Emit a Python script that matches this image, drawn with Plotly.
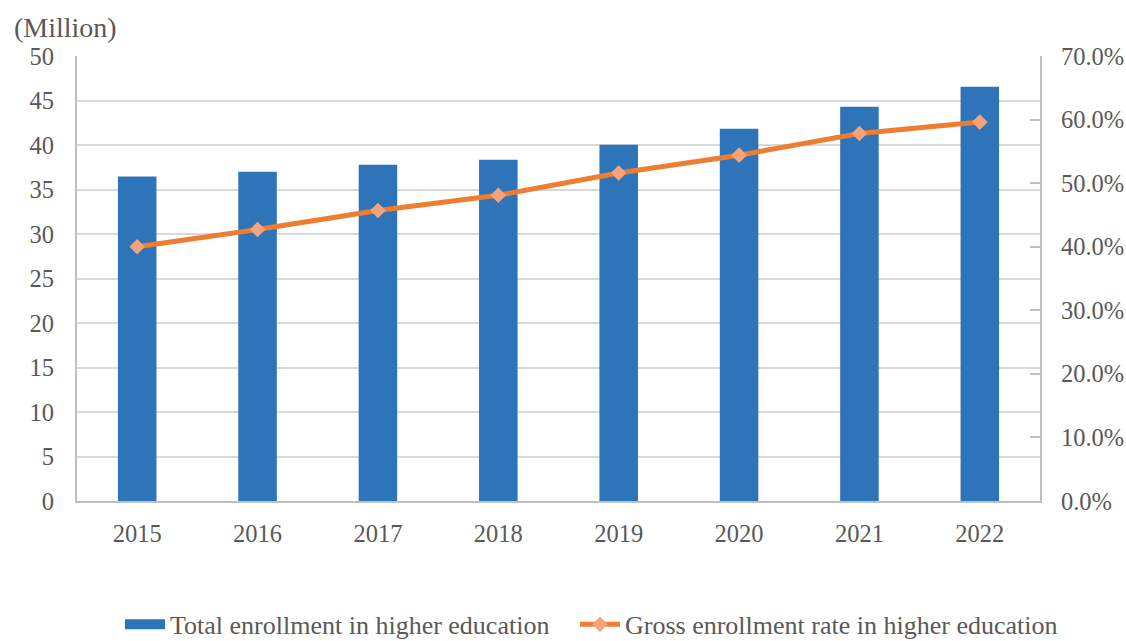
import plotly.graph_objects as go

# Higher education in China, 2015-2022
years = ["2015", "2016", "2017", "2018", "2019", "2020", "2021", "2022"]
total_enrollment_million = [36.47, 36.99, 37.79, 38.33, 40.02, 41.83, 44.30, 46.55]
gross_enrollment_rate = [0.400, 0.427, 0.457, 0.481, 0.516, 0.544, 0.578, 0.596]

left_ticks = [0, 5, 10, 15, 20, 25, 30, 35, 40, 45, 50]
right_ticks = [0.0, 0.1, 0.2, 0.3, 0.4, 0.5, 0.6, 0.7]

FONT = "Liberation Serif, Times New Roman, serif"
FS = 24.5
LEG_FS = 26
TEXT = "#595959"
AXIS = "#bfbfbf"
BLUE = "#2E74B9"
ORANGE = "#ED7D31"
DIAMOND = "#F4A37A"

fig = go.Figure()

fig.add_trace(go.Bar(
    x=years,
    y=total_enrollment_million,
    name="Total enrollment in higher education",
    marker=dict(color=BLUE, line=dict(width=0)),
    width=0.32,
    yaxis="y",
    showlegend=False,
))

# legend swatch for the bars: a wide flat block
fig.add_trace(go.Scatter(
    x=[None], y=[None],
    name="Total enrollment in higher education",
    mode="lines",
    line=dict(color=BLUE, width=16),
    legend="legend",
    hoverinfo="skip",
))

fig.add_trace(go.Scatter(
    x=years,
    y=gross_enrollment_rate,
    name="Gross enrollment rate in higher education",
    mode="lines+markers",
    line=dict(color=ORANGE, width=5),
    marker=dict(symbol="diamond", size=12, color=DIAMOND,
                line=dict(width=0)),
    yaxis="y2",
    legend="legend2",
))

legend_common = dict(
    orientation="h",
    xref="container", yref="container",
    xanchor="left",
    y=0.026, yanchor="middle",
    font=dict(family=FONT, size=LEG_FS, color=TEXT),
    itemwidth=40,
    bgcolor="rgba(0,0,0,0)",
)

fig.update_layout(
    width=1126,
    height=641,
    margin=dict(l=77, r=86, t=56, b=140, autoexpand=False),
    paper_bgcolor="white",
    plot_bgcolor="white",
    font=dict(family=FONT, size=FS, color=TEXT),
    showlegend=True,
    legend=dict(legend_common, x=(172 - 52) / 1126),
    legend2=dict(legend_common, x=(627 - 52) / 1126),
    xaxis=dict(
        type="category",
        showline=True,
        linecolor=AXIS,
        linewidth=2,
        showgrid=False,
        ticks="",
        tickfont=dict(family=FONT, size=FS, color=TEXT),
        ticklabelstandoff=10,
        automargin=False,
    ),
    yaxis=dict(
        range=[0, 50],
        tickvals=left_ticks,
        showgrid=True,
        gridcolor="#d9d9d9",
        gridwidth=2,
        showline=True,
        linecolor=AXIS,
        linewidth=2,
        zeroline=False,
        ticks="",
        tickfont=dict(family=FONT, size=FS, color=TEXT),
        ticklabelstandoff=16,
        automargin=False,
    ),
    yaxis2=dict(
        range=[0, 0.7],
        tickvals=right_ticks,
        tickformat=".1%",
        overlaying="y",
        side="right",
        showgrid=False,
        showline=True,
        linecolor=AXIS,
        linewidth=2,
        zeroline=False,
        ticks="inside",
        ticklen=10,
        tickwidth=1.5,
        tickcolor=AXIS,
        tickfont=dict(family=FONT, size=FS, color=TEXT),
        ticklabelstandoff=14,
        automargin=False,
    ),
    annotations=[
        dict(
            text="(Million)",
            xref="paper", yref="paper",
            x=-0.068, y=1.063,
            xanchor="left", yanchor="middle",
            showarrow=False,
            font=dict(family=FONT, size=28, color=TEXT),
        )
    ],
)

fig.write_html("out.html")
